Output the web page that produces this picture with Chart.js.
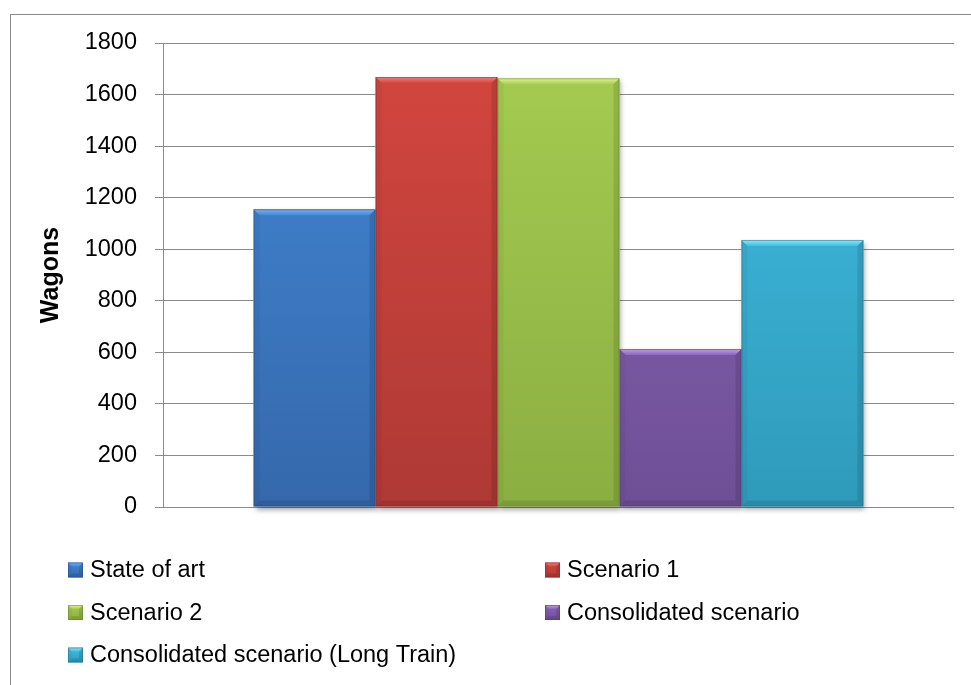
<!DOCTYPE html>
<html>
<head>
<meta charset="utf-8">
<title>Wagons</title>
<script src="https://cdn.jsdelivr.net/npm/chart.js@4"></script>
<style>
  body { margin: 0; background: #fff; }
  canvas { display: block; }
</style>
</head>
<body>
<canvas id="wagonsChart" width="971" height="685"></canvas>
<script>
// ---- Data ----
const scenarios = ['State of art', 'Scenario 1', 'Scenario 2', 'Consolidated scenario', 'Consolidated scenario (Long Train)'];
const wagons = [1155, 1668, 1663, 613, 1036];
const yTicks = [0, 200, 400, 600, 800, 1000, 1200, 1400, 1600, 1800];

// ---- Bar colours: face gradient, bevel light edge, bevel dark edge ----
const faceTop = ['#4287d6', '#d4463f', '#a6cc51', '#8c66bb', '#41bee3'];
const faceBottom = ['#3568ab', '#ae3935', '#8bae42', '#6e4f95', '#2f9aba'];
const edgeLight = ['#7ab2f4', '#f58079', '#e0f590', '#c29deb', '#8aeafd'];
const edgeDark = ['#244d82', '#842a27', '#687f30', '#513a70', '#21698a'];

const FONT = '"Liberation Sans", Arial, sans-serif';
const gridGrey = '#8a8a8a';

function faceGradient(c, top, bottom, i) {
  const g = c.createLinearGradient(0, top, 0, bottom);
  g.addColorStop(0, faceTop[i]);
  g.addColorStop(1, faceBottom[i]);
  return g;
}

// bevelled block, like the 3-D office bar style
function drawBevel(c, l, t, r, b, size, i) {
  const s = Math.min(size, (r - l) / 2, (b - t) / 2);
  c.save();
  // top edge
  c.beginPath();
  c.moveTo(l, t); c.lineTo(r, t); c.lineTo(r - s, t + s); c.lineTo(l + s, t + s); c.closePath();
  const gt = c.createLinearGradient(0, t, 0, t + s);
  gt.addColorStop(0, edgeLight[i]);
  gt.addColorStop(1, faceTop[i]);
  c.fillStyle = gt; c.fill();
  // left edge
  c.beginPath();
  c.moveTo(l, t); c.lineTo(l + s, t + s); c.lineTo(l + s, b - s); c.lineTo(l, b); c.closePath();
  c.fillStyle = 'rgba(0,0,0,0.04)'; c.fill();
  // right edge
  c.beginPath();
  c.moveTo(r, t); c.lineTo(r - s, t + s); c.lineTo(r - s, b - s); c.lineTo(r, b); c.closePath();
  c.fillStyle = 'rgba(0,0,0,0.11)'; c.fill();
  // bottom edge
  c.beginPath();
  c.moveTo(l, b); c.lineTo(l + s, b - s); c.lineTo(r - s, b - s); c.lineTo(r, b); c.closePath();
  c.fillStyle = 'rgba(0,0,0,0.1)'; c.fill();
  // outline
  c.strokeStyle = edgeDark[i];
  c.globalAlpha = 0.5;
  c.lineWidth = 1;
  c.strokeRect(l + 0.5, t + 0.5, r - l - 1, b - t - 1);
  c.restore();
}

// white page plus the thin grey chart frame
const framePlugin = {
  id: 'frame',
  beforeDraw(chart) {
    const c = chart.ctx;
    c.save();
    c.fillStyle = '#fff';
    c.fillRect(0, 0, chart.width, chart.height);
    c.strokeStyle = gridGrey;
    c.lineWidth = 1;
    c.strokeRect(10.5, 14.5, chart.width + 20, chart.height + 20);
    c.restore();
  }
};

// soft drop shadow under the bars, then bevels on top
const barStylePlugin = {
  id: 'barStyle',
  beforeDatasetsDraw(chart) {
    const c = chart.ctx;
    c.save();
    chart.data.datasets.forEach((ds, i) => {
      chart.getDatasetMeta(i).data.forEach(bar => {
        const l = bar.x - bar.width / 2;
        c.shadowColor = 'rgba(0,0,0,0.35)';
        c.shadowBlur = 5;
        c.shadowOffsetX = 2;
        c.shadowOffsetY = 3;
        c.fillStyle = '#fff';
        c.fillRect(l, bar.y, bar.width, bar.base - bar.y);
      });
    });
    c.restore();
  },
  afterDatasetsDraw(chart) {
    const c = chart.ctx;
    chart.data.datasets.forEach((ds, i) => {
      chart.getDatasetMeta(i).data.forEach(bar => {
        const l = bar.x - bar.width / 2;
        drawBevel(c, l, bar.y, l + bar.width, bar.base, 6, i);
      });
    });
  }
};

// two-column legend under the plot
const legendPlugin = {
  id: 'twoColLegend',
  afterDraw(chart) {
    const c = chart.ctx;
    const colX = [68, 545];
    const rowY = 570, rowGap = 42.5, box = 15;
    c.save();
    c.font = '23.5px ' + FONT;
    c.textBaseline = 'middle';
    chart.data.datasets.forEach((ds, i) => {
      const x = colX[i % 2];
      const y = rowY + Math.floor(i / 2) * rowGap;
      const t = y - box / 2;
      c.fillStyle = faceGradient(c, t, t + box, i);
      c.fillRect(x, t, box, box);
      drawBevel(c, x, t, x + box, t + box, 4, i);
      c.fillStyle = '#000';
      c.fillText(ds.label, x + 22, y + 1);
    });
    c.restore();
  }
};

new Chart(document.getElementById('wagonsChart'), {
  type: 'bar',
  data: {
    labels: [''],
    datasets: scenarios.map((name, i) => ({
      label: name,
      data: [wagons[i]],
      backgroundColor: ctx => {
        const area = ctx.chart.chartArea;
        if (!area) return faceTop[i];
        return faceGradient(ctx.chart.ctx, area.top, area.bottom, i);
      },
      borderWidth: 0,
      categoryPercentage: 0.771,
      barPercentage: 1
    }))
  },
  options: {
    responsive: false,
    animation: false,
    layout: { padding: { left: 0, top: 43, right: 17, bottom: 178 } },
    plugins: {
      legend: { display: false },
      tooltip: { enabled: false }
    },
    scales: {
      x: { display: false },
      y: {
        min: 0,
        max: 1800,
        afterBuildTicks: scale => { scale.ticks = yTicks.map(v => ({ value: v })); },
        afterFit: scale => { scale.width = 163; },
        ticks: {
          color: '#000',
          padding: 18,
          font: { family: FONT, size: 23.5 },
          callback: v => String(v)
        },
        grid: {
          color: gridGrey,
          lineWidth: 1,
          tickLength: 8,
          tickColor: gridGrey
        },
        border: { color: gridGrey, width: 1 },
        title: {
          display: true,
          text: 'Wagons',
          color: '#000',
          padding: { top: 36, bottom: 0 },
          font: { family: FONT, size: 25, weight: 'bold', lineHeight: 1.2 }
        }
      }
    }
  },
  plugins: [framePlugin, barStylePlugin, legendPlugin]
});
</script>
</body>
</html>
